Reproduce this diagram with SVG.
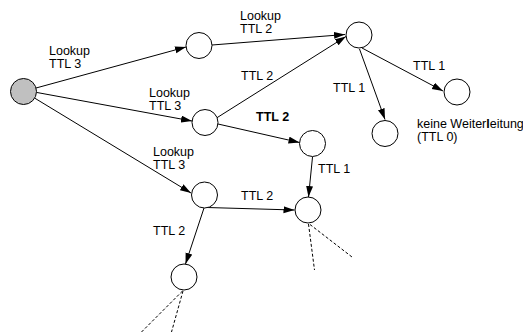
<svg xmlns="http://www.w3.org/2000/svg" width="523" height="332" viewBox="0 0 523 332">
<style>
.n{fill:#fff;stroke:#000;stroke-width:1}
.src{fill:#c0c0c0}
.e{stroke:#000;stroke-width:1;fill:none;marker-end:url(#ah)}
.d{stroke:#000;stroke-width:1;fill:none;stroke-dasharray:3 2}
text{font-family:"Liberation Sans",Arial,sans-serif;font-size:12.5px;fill:#000}
.b{font-weight:bold}
</style>
<defs>
<marker id="ah" markerWidth="11" markerHeight="8" refX="11" refY="3.5" orient="auto" markerUnits="userSpaceOnUse">
<path d="M0,0 L11,3.5 L0,7 z" fill="#000"/>
</marker>
</defs>
<g id="connectors">
<line class="e" x1="36" y1="88" x2="186" y2="47"/>
<line class="e" x1="37" y1="92.5" x2="192" y2="121"/>
<line class="e" x1="34.5" y1="98" x2="191" y2="193"/>
<line class="e" x1="212" y1="45" x2="345" y2="34.5"/>
<line class="e" x1="216.5" y1="118" x2="346" y2="36.5"/>
<line class="e" x1="218" y1="124" x2="299.5" y2="142.5"/>
<line class="e" x1="362" y1="48" x2="443" y2="91"/>
<line class="e" x1="359.5" y1="49" x2="385" y2="119.5"/>
<line class="e" x1="312.5" y1="157" x2="308.5" y2="197"/>
<line class="e" x1="207" y1="207.5" x2="294.5" y2="210"/>
<line class="e" x1="204" y1="208" x2="185.5" y2="264"/>
<line class="d" x1="182.5" y1="291" x2="141.5" y2="332"/>
<line class="d" x1="183" y1="291" x2="171.5" y2="332"/>
<line class="d" x1="308.5" y1="224" x2="314.5" y2="270"/>
<line class="d" x1="310" y1="224.5" x2="352" y2="257"/>
</g>
<g id="n-source"><circle class="n src" cx="23.5" cy="91.5" r="13"/></g>
<g id="n-a"><circle class="n" cx="199" cy="45.5" r="13"/></g>
<g id="n-b"><circle class="n" cx="205" cy="122.5" r="13"/></g>
<g id="n-c"><circle class="n" cx="359" cy="35" r="13"/></g>
<g id="n-d"><circle class="n" cx="457" cy="92" r="13"/></g>
<g id="n-e"><circle class="n" cx="385" cy="133.5" r="13"/></g>
<g id="n-f"><circle class="n" cx="312.5" cy="143.5" r="13"/></g>
<g id="n-g"><circle class="n" cx="204.5" cy="195" r="13"/></g>
<g id="n-h"><circle class="n" cx="308" cy="210" r="13"/></g>
<g id="n-i"><circle class="n" cx="184" cy="277" r="13"/></g>
<g id="labels">
<text x="49" y="55">Lookup</text><text x="49" y="68">TTL 3</text>
<text x="149" y="97">Lookup</text><text x="149" y="110">TTL 3</text>
<text x="153" y="156">Lookup</text><text x="153" y="169">TTL 3</text>
<text x="240" y="20">Lookup</text><text x="240" y="33">TTL 2</text>
<text x="241" y="80">TTL 2</text>
<text class="b" x="256" y="121">TTL 2</text>
<text x="413" y="70">TTL 1</text>
<text x="333" y="92">TTL 1</text>
<text x="417" y="128">keine Weiter<tspan class="b">l</tspan>eitung</text>
<text x="417" y="141">(TTL 0)</text>
<text x="318" y="173">TTL 1</text>
<text x="241" y="200">TTL 2</text>
<text x="153" y="235">TTL 2</text>
</g>
</svg>
